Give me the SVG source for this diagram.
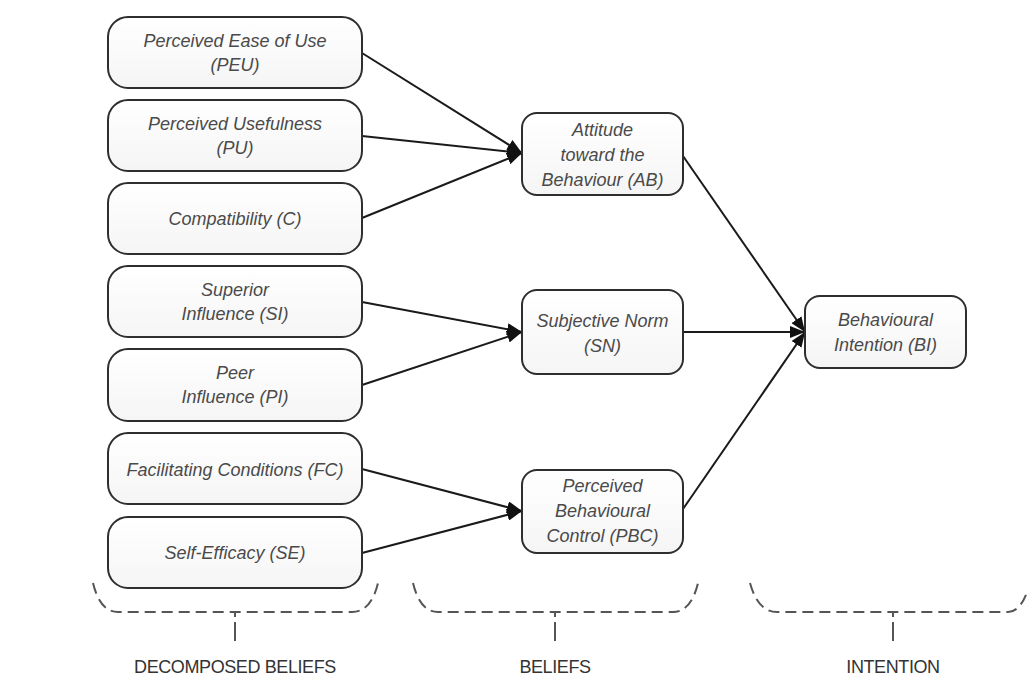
<svg xmlns="http://www.w3.org/2000/svg" width="1027" height="678" viewBox="0 0 1027 678">
<defs>
<linearGradient id="fill" x1="0" y1="0" x2="0" y2="1">
<stop offset="0" stop-color="#ffffff"/>
<stop offset="1" stop-color="#f5f5f5"/>
</linearGradient>
<marker id="arr" markerUnits="userSpaceOnUse" markerWidth="16" markerHeight="12" refX="15" refY="6" orient="auto">
<path d="M0,0 L15,6 L0,12 z" fill="#111"/>
</marker>
<style>
.box{fill:url(#fill);stroke:#2e2e2e;stroke-width:2}
.t{font-family:"Liberation Sans",Arial,sans-serif;font-style:italic;font-size:18px;fill:#4a4a4a;text-anchor:middle}
.lbl{font-family:"Liberation Sans",Arial,sans-serif;font-size:18px;fill:#333;text-anchor:middle;letter-spacing:-0.4px}
.c{stroke:#1a1a1a;stroke-width:2;fill:none;marker-end:url(#arr)}
.br{stroke:#555;stroke-width:2;fill:none;stroke-dasharray:11 6}
.tick{stroke:#555;stroke-width:2;fill:none;stroke-dasharray:5 5 20 0}
</style>
</defs>
<rect width="1027" height="678" fill="#ffffff"/>

<g id="connectors">
<line class="c" x1="362" y1="53" x2="522" y2="153"/>
<line class="c" x1="362" y1="136" x2="522" y2="153"/>
<line class="c" x1="362" y1="218" x2="522" y2="153"/>
<line class="c" x1="362" y1="302" x2="522" y2="332"/>
<line class="c" x1="362" y1="385" x2="522" y2="332"/>
<line class="c" x1="362" y1="469" x2="522" y2="511"/>
<line class="c" x1="362" y1="553" x2="522" y2="511"/>
<line class="c" x1="683" y1="156" x2="805" y2="332"/>
<line class="c" x1="683" y1="332" x2="805" y2="332"/>
<line class="c" x1="683" y1="509" x2="805" y2="332"/>
</g>

<g id="PEU"><rect class="box" x="108" y="17" width="254" height="71" rx="20"/>
<text class="t" x="235" y="47">Perceived Ease of Use</text><text class="t" x="235" y="71">(PEU)</text></g>
<g id="PU"><rect class="box" x="108" y="100" width="254" height="71" rx="20"/>
<text class="t" x="235" y="130">Perceived Usefulness</text><text class="t" x="235" y="154">(PU)</text></g>
<g id="C"><rect class="box" x="108" y="183" width="254" height="71" rx="20"/>
<text class="t" x="235" y="225">Compatibility (C)</text></g>
<g id="SI"><rect class="box" x="108" y="266" width="254" height="71" rx="20"/>
<text class="t" x="235" y="296">Superior</text><text class="t" x="235" y="320">Influence (SI)</text></g>
<g id="PI"><rect class="box" x="108" y="349" width="254" height="72" rx="20"/>
<text class="t" x="235" y="379">Peer</text><text class="t" x="235" y="403">Influence (PI)</text></g>
<g id="FC"><rect class="box" x="108" y="433" width="254" height="71" rx="20"/>
<text class="t" x="235" y="476">Facilitating Conditions (FC)</text></g>
<g id="SE"><rect class="box" x="108" y="517" width="254" height="71" rx="20"/>
<text class="t" x="235" y="559">Self-Efficacy (SE)</text></g>

<g id="AB"><rect class="box" x="522" y="113" width="161" height="82" rx="15"/>
<text class="t" x="602.5" y="136">Attitude</text><text class="t" x="602.5" y="161">toward the</text><text class="t" x="602.5" y="186">Behaviour (AB)</text></g>
<g id="SN"><rect class="box" x="522" y="290" width="161" height="84" rx="15"/>
<text class="t" x="602.5" y="327">Subjective Norm</text><text class="t" x="602.5" y="352">(SN)</text></g>
<g id="PBC"><rect class="box" x="522" y="470" width="161" height="83" rx="15"/>
<text class="t" x="602.5" y="492">Perceived</text><text class="t" x="602.5" y="517">Behavioural</text><text class="t" x="602.5" y="542">Control (PBC)</text></g>
<g id="BI"><rect class="box" x="805" y="296" width="161" height="72" rx="15"/>
<text class="t" x="885.5" y="326">Behavioural</text><text class="t" x="885.5" y="351">Intention (BI)</text></g>

<g id="groups">
<path class="br" d="M93,583 Q100,612 118,612 L352,612 Q371,612 378,583"/>
<path class="tick" d="M235,612 L235,641"/>
<text class="lbl" x="235" y="673">DECOMPOSED BELIEFS</text>
<path class="br" d="M413,583 Q420,612 438,612 L673,612 Q691,612 698,583"/>
<path class="tick" d="M555,612 L555,641"/>
<text class="lbl" x="555" y="673">BELIEFS</text>
<path class="br" d="M750,583 Q758,612 777,612 L1008,612 Q1022,612 1030,583"/>
<path class="tick" d="M893,612 L893,641"/>
<text class="lbl" x="893" y="673">INTENTION</text>
</g>
</svg>
